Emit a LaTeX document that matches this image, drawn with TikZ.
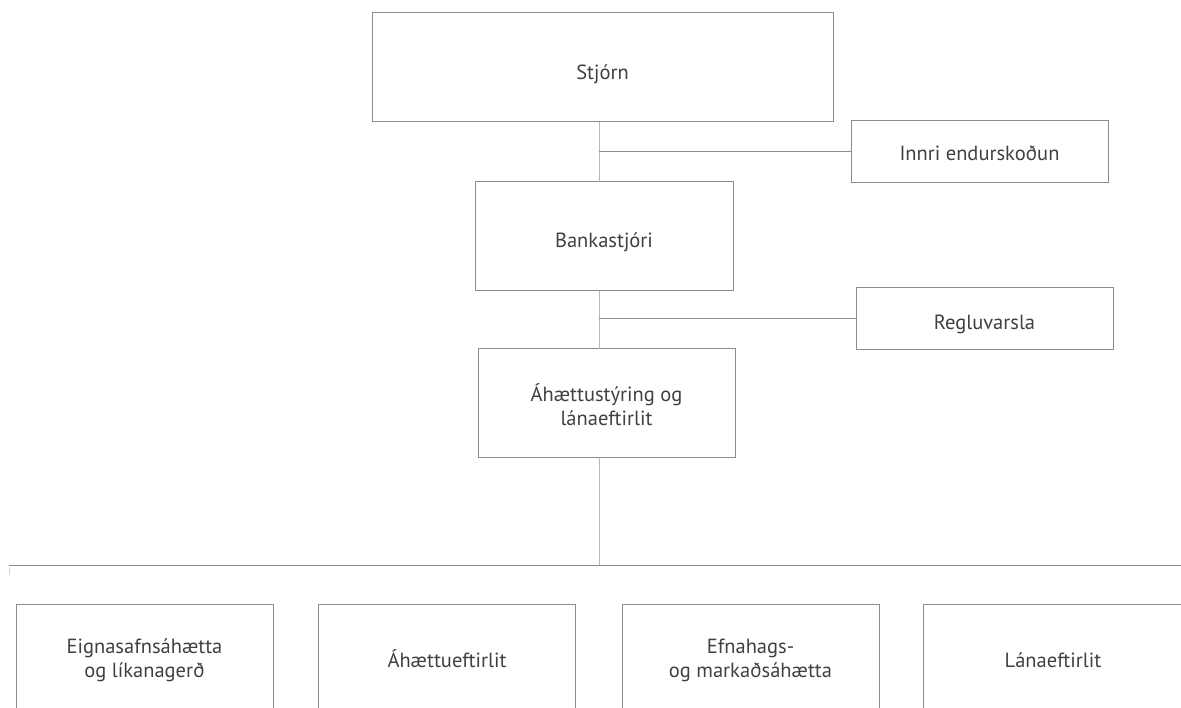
\documentclass[tikz,border=0pt]{standalone}
\usepackage{fontspec}
\setmainfont{PT Sans}
\definecolor{linegray}{HTML}{8C8C8C}
\definecolor{trunkgray}{HTML}{B8B8B8}
\definecolor{textgray}{HTML}{404040}
% invisible struts fixing the height of a first line and the depth of a last line
\newcommand{\topstrut}[1]{\rule{0pt}{#1}}
\newcommand{\botstrut}{\rule[-5pt]{0pt}{5pt}}
\begin{document}
\begin{tikzpicture}[x=1pt,y=-1pt,
  box/.style={draw=linegray, line width=1pt, inner sep=0pt, outer sep=0pt,
    align=center, text=textgray, font=\fontsize{20.5}{24.5}\selectfont},
  oneline/.style={text height=#1, text depth=2pt},
  oneline/.default=23pt,
  wide/.style={box, minimum width=257pt, minimum height=108pt},
  slim/.style={box, minimum width=257pt, minimum height=62pt},
  link/.style={draw=linegray, line width=1pt},
  trunkline/.style={draw=trunkgray, line width=1pt}]
\useasboundingbox (0,0) rectangle (1181,708);
\clip (0,0) rectangle (1181,708);
\fill[white] (0,0) rectangle (1181,708);

% management chain
\node[box, oneline=27pt, minimum width=461pt, minimum height=109pt] (stjorn) at (602.5,67.5) {Stjórn};
\node[slim, oneline=19.5pt] (innri) at (979.5,152) {Innri endurskoðun};
\node[box, oneline=23.5pt, minimum width=258pt, minimum height=109pt] (bank) at (604,236.5) {Bankastjóri};
\node[slim, oneline=24pt] (regl) at (984.5,319) {Regluvarsla};
\node[wide] (ahaett) at (606.5,403) {\topstrut{26pt}Áhættustýring og\\lánaeftirlit\botstrut};

% departments
\node[wide] (eign) at (144.5,658) {\topstrut{20pt}Eignasafnsáhætta\\og líkanagerð\botstrut};
\node[wide, oneline=21.5pt] (eft) at (447,658) {Áhættueftirlit};
\node[wide] (efn) at (750.5,658) {\topstrut{20pt}Efnahags-\\og markaðsáhætta\botstrut};
\node[box, oneline=21.5pt, minimum width=260pt, minimum height=108pt] (lan) at (1053,658) {Lánaeftirlit};

% trunk and bus
\coordinate (trunk) at (599,0);
\coordinate (busL) at (9,565.5);
\coordinate (busR) at (1181,565.5);
\coordinate (tickT) at (9.5,568);
\coordinate (tickB) at (9.5,575);

\draw[trunkline] (stjorn.south -| trunk) -- (bank.north -| trunk);
\draw[trunkline] (bank.south -| trunk) -- (ahaett.north -| trunk);
\draw[trunkline] (ahaett.south -| trunk) -- (trunk |- busL);
\draw[link] (innri.west) -- (innri.west -| trunk);
\draw[link] (regl.west) -- (regl.west -| trunk);
\draw[link] (busL) -- (busR);
\draw[draw=trunkgray!60, line width=0.8pt] (tickT) -- (tickB);
\end{tikzpicture}
\end{document}
